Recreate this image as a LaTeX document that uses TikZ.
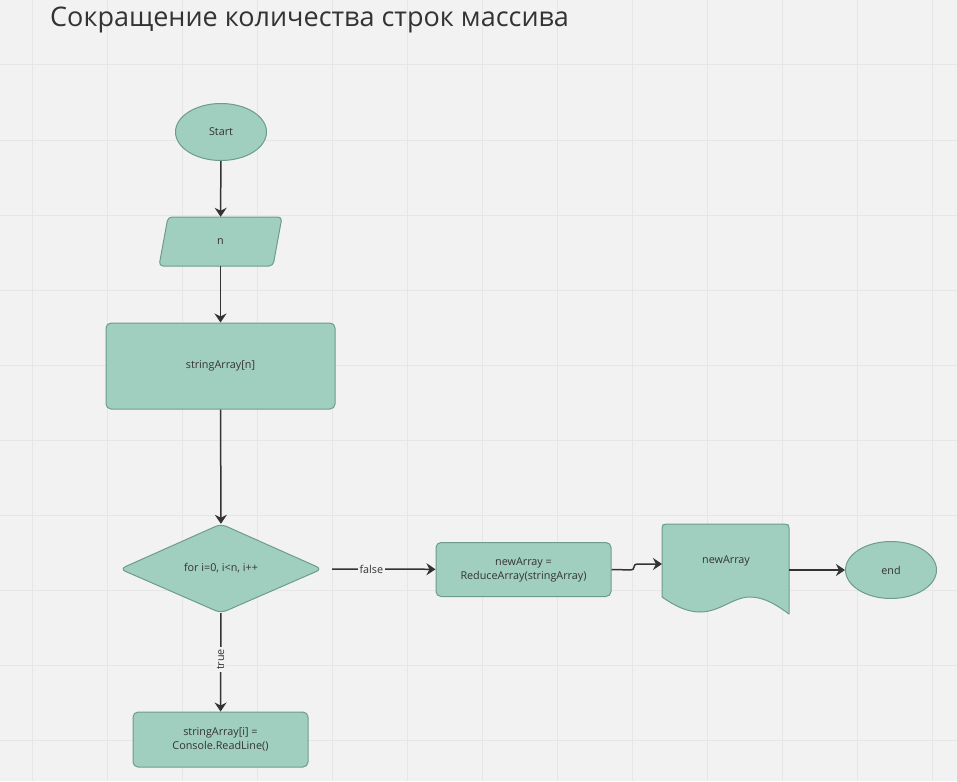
\documentclass[tikz,border=0pt]{standalone}
\usepackage{fontspec}
\setmainfont{Open Sans}
\usetikzlibrary{shapes.geometric,arrows.meta}
\definecolor{bgc}{HTML}{F2F2F2}
\definecolor{gridc}{HTML}{E6E6E6}
\definecolor{shapefill}{HTML}{A1CFBF}
\definecolor{shapeline}{HTML}{6E9C8C}
\definecolor{txt}{HTML}{333333}
\tikzset{
  shp/.style={fill=shapefill,draw=shapeline,line width=1pt},
  term/.style={shp,ellipse,minimum width=91,minimum height=57,inner sep=0,font=\fontsize{10.8}{13}\selectfont,text=txt},
  proc/.style={shp,rectangle,rounded corners=5,inner sep=0,align=center,font=\fontsize{10.8}{14}\selectfont,text=txt},
  ghost/.style={inner sep=0,align=center,font=\fontsize{10.8}{14}\selectfont,text=txt},
  conn/.style={draw=txt,line width=1.5pt,-{Stealth[length=9pt,width=12pt,inset=3pt]}},
  lbl/.style={fill=bgc,inner sep=2pt,font=\fontsize{10.8}{13}\selectfont,text=txt}
}
\begin{document}
\begin{tikzpicture}[x=1pt,y=-1pt]
\fill[bgc] (0,0) rectangle (957,781);
\useasboundingbox (0,0) rectangle (957,781);
\foreach \gx in {32,107,...,932} \draw[gridc,line width=1pt] (\gx,0) -- (\gx,781);
\foreach \gy in {65,140,...,740} \draw[gridc,line width=1pt] (0,\gy) -- (957,\gy);
\node[anchor=west,text=txt,font=\fontsize{27}{32}\selectfont,inner sep=0] (title) at (50,20) {Сокращение количества строк массива};

\node[term] (start) at (221,132) {Start};

\draw[shp,rounded corners=4] (168,217) -- (282,217) -- (273,266) -- (159,266) -- cycle;
\node[ghost,minimum width=100,minimum height=49] (n) at (220.5,241.5) {n};

\node[proc,minimum width=229,minimum height=86] (arr) at (220.5,366) {stringArray[n]};

\draw[shp,rounded corners=6] (221,524) -- (322,569) -- (221,613) -- (120,569) -- cycle;
\node[ghost,minimum width=202,minimum height=89] (loop) at (221,568.5) {for i=0, i<n, i++};
\coordinate (loopr) at (332,569);

\node[proc,minimum width=175,minimum height=54] (reduce) at (523.5,569.5) {newArray =\\ReduceArray(stringArray)};

\fill[shapefill] (662,597) .. controls (675,606) and (687,612) .. (700,612) .. controls (720,612) and (733,597) .. (750,597) .. controls (765,597) and (778,606) .. (789,614) -- (789,524) -- (662,524) -- cycle;
\draw[shapeline,line width=1pt,rounded corners=4] (662,597) -- (662,524) -- (789,524) -- (789,614);
\draw[shapeline,line width=1pt] (662,597) .. controls (675,606) and (687,612) .. (700,612) .. controls (720,612) and (733,597) .. (750,597) .. controls (765,597) and (778,606) .. (789,614);
\node[ghost,minimum width=127,minimum height=93] (doc) at (725.5,570.5) {};
\node[ghost] (doctext) at (726,561) {newArray};
\coordinate (docin) at (662,564);

\node[term] (end) at (891,570) {end};

\node[proc,minimum width=175,minimum height=55] (read) at (220.5,739.5) {stringArray[i] =\\Console.ReadLine()};

\draw[conn] (start) -- (n);
\draw[conn] (n) -- (arr);
\draw[conn] (arr) -- (loop);
\draw[conn] (loopr) -- node[lbl,pos=0.38] {false} (reduce);
\draw[conn] (loop) -- node[lbl,pos=0.47,rotate=90] {true} (read);
\draw[conn,rounded corners=3] (reduce.east) -- (634,570) -- (634,564) -- (docin);
\draw[conn] (doc.east |- end) -- (end);
\end{tikzpicture}
\end{document}
